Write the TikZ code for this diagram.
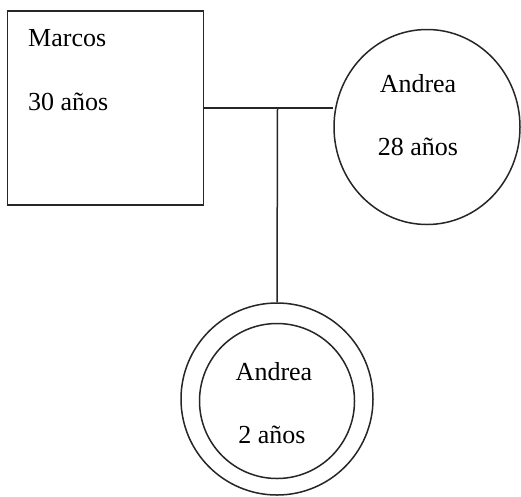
\documentclass[tikz,border=0pt]{standalone}
\usepackage{fontspec}
\setmainfont{Liberation Serif}
\usetikzlibrary{shapes.geometric}
\begin{document}
\begin{tikzpicture}[x=1pt,y=-1pt,
  line/.style={draw=black!85,line width=1.5pt},
  lbl/.style={font=\fontsize{26}{30}\selectfont,inner sep=0pt,anchor=base},
  person/.style={line,fill=white,inner sep=0pt}]
\useasboundingbox (0,0) rectangle (521,496);
\node[person,rectangle,minimum width=196pt,minimum height=194pt] (marcos) at (105.5,108) {};
\node[person,ellipse,minimum width=186pt,minimum height=195pt] (mother) at (427,127) {};
\node[person,circle,minimum size=192pt] (childout) at (277,399) {};
\node[line,circle,inner sep=0pt,minimum size=155pt] (childin) at (277,401) {};
\coordinate (j) at (277.5,108);
\draw[line] (marcos.east) -- (mother.west |- marcos.east);
\draw[line] (j) -- (childout.north);
\node[lbl,anchor=base west] (t1) at (28,46) {Marcos};
\node[lbl,anchor=base west] (t2) at (28,110) {30 años};
\node[lbl] (t3) at (418,92) {Andrea};
\node[lbl] (t4) at (418,155) {28 años};
\node[lbl] (t5) at (274,380) {Andrea};
\node[lbl] (t6) at (272,443) {2 años};
\end{tikzpicture}
\end{document}
